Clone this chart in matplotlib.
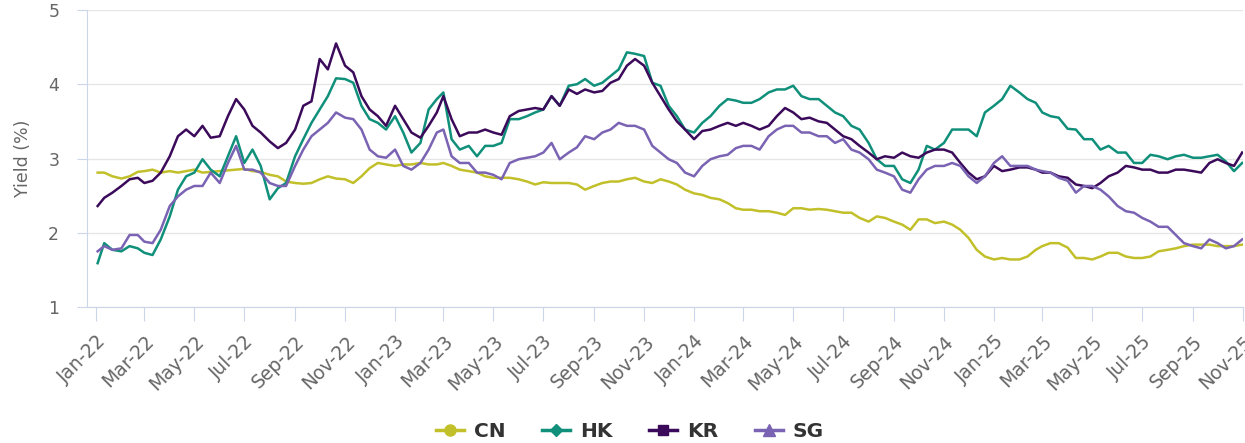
import matplotlib.pyplot as plt
import matplotlib.dates as mdates
import pandas as pd

# sample dates: 1st, 11th, 21st of each month, Jan-22 .. Oct-25
months = pd.date_range('2022-01-01', '2025-10-01', freq='MS')
dates = [m + pd.Timedelta(days=d) for m in months for d in (0, 10, 20)]
dates[0] = pd.Timestamp('2022-01-03')
dates.append(pd.Timestamp('2025-10-31'))

cn = [2.81, 2.81, 2.76, 2.73, 2.76, 2.82, 2.83, 2.85, 2.81, 2.83, 2.81, 2.83,
      2.85, 2.81, 2.82, 2.83, 2.84, 2.85, 2.86, 2.83, 2.82, 2.78, 2.76, 2.69,
      2.67, 2.66, 2.67, 2.72, 2.76, 2.73, 2.72, 2.67, 2.76, 2.87, 2.94, 2.92,
      2.90, 2.92, 2.92, 2.94, 2.92, 2.92, 2.94, 2.90, 2.85, 2.83, 2.81, 2.76,
      2.74, 2.74, 2.74, 2.72, 2.69, 2.65, 2.68, 2.67, 2.67, 2.67, 2.65, 2.58,
      2.63, 2.67, 2.69, 2.69, 2.72, 2.74, 2.69, 2.67, 2.72, 2.69, 2.65, 2.58,
      2.53, 2.51, 2.47, 2.45, 2.40, 2.33, 2.31, 2.31, 2.29, 2.29, 2.27, 2.24,
      2.33, 2.33, 2.31, 2.32, 2.31, 2.29, 2.27, 2.27, 2.20, 2.15, 2.22, 2.20,
      2.15, 2.11, 2.04, 2.18, 2.18, 2.13, 2.15, 2.11, 2.04, 1.93, 1.77, 1.68,
      1.64, 1.66, 1.64, 1.64, 1.68, 1.77, 1.82, 1.86, 1.86, 1.80, 1.66, 1.66,
      1.64, 1.68, 1.73, 1.73, 1.68, 1.66, 1.66, 1.68, 1.75, 1.77, 1.79, 1.82,
      1.84, 1.84, 1.84, 1.82, 1.82, 1.82, 1.84]

hk = [1.59, 1.86, 1.77, 1.75, 1.82, 1.79, 1.73, 1.70, 1.91, 2.22, 2.58, 2.76,
      2.81, 2.99, 2.85, 2.76, 3.03, 3.30, 2.94, 3.12, 2.90, 2.45, 2.60, 2.67,
      3.03, 3.26, 3.48, 3.66, 3.84, 4.08, 4.07, 4.02, 3.71, 3.53, 3.48, 3.39,
      3.57, 3.35, 3.08, 3.21, 3.66, 3.80, 3.89, 3.26, 3.12, 3.17, 3.03, 3.17,
      3.17, 3.21, 3.53, 3.53, 3.57, 3.62, 3.66, 3.84, 3.71, 3.98, 4.00, 4.07,
      3.98, 4.02, 4.11, 4.20, 4.43, 4.41, 4.38, 4.02, 3.98, 3.71, 3.57, 3.39,
      3.35, 3.48, 3.57, 3.71, 3.80, 3.78, 3.75, 3.75, 3.80, 3.89, 3.93, 3.93,
      3.98, 3.84, 3.80, 3.80, 3.71, 3.62, 3.57, 3.44, 3.39, 3.21, 2.99, 2.90,
      2.90, 2.72, 2.67, 2.85, 3.17, 3.12, 3.21, 3.39, 3.39, 3.39, 3.30, 3.62,
      3.71, 3.80, 3.98, 3.89, 3.80, 3.75, 3.62, 3.57, 3.55, 3.40, 3.39, 3.26,
      3.26, 3.12, 3.17, 3.08, 3.08, 2.94, 2.94, 3.05, 3.03, 2.99, 3.03, 3.05,
      3.01, 3.01, 3.03, 3.05, 2.96, 2.83, 2.94]

kr = [2.36, 2.47, 2.54, 2.63, 2.72, 2.74, 2.67, 2.70, 2.81, 3.03, 3.30, 3.39,
      3.30, 3.44, 3.28, 3.30, 3.57, 3.80, 3.66, 3.44, 3.35, 3.23, 3.14, 3.21,
      3.39, 3.71, 3.77, 4.34, 4.20, 4.55, 4.25, 4.16, 3.84, 3.66, 3.57, 3.44,
      3.71, 3.53, 3.35, 3.28, 3.44, 3.62, 3.84, 3.53, 3.30, 3.35, 3.35, 3.39,
      3.35, 3.32, 3.57, 3.64, 3.66, 3.68, 3.66, 3.84, 3.71, 3.93, 3.87, 3.93,
      3.89, 3.91, 4.02, 4.07, 4.25, 4.34, 4.25, 4.02, 3.84, 3.66, 3.50, 3.39,
      3.26, 3.37, 3.39, 3.44, 3.48, 3.44, 3.48, 3.44, 3.39, 3.44, 3.57, 3.68,
      3.62, 3.53, 3.55, 3.50, 3.48, 3.39, 3.30, 3.26, 3.17, 3.08, 2.99, 3.03,
      3.01, 3.08, 3.03, 3.01, 3.08, 3.12, 3.12, 3.08, 2.94, 2.81, 2.72, 2.76,
      2.90, 2.83, 2.85, 2.88, 2.88, 2.85, 2.81, 2.81, 2.76, 2.74, 2.65, 2.63,
      2.60, 2.67, 2.76, 2.81, 2.90, 2.88, 2.85, 2.85, 2.81, 2.81, 2.85, 2.85,
      2.83, 2.81, 2.94, 2.99, 2.94, 2.90, 3.08]

sg = [1.75, 1.82, 1.77, 1.79, 1.97, 1.97, 1.88, 1.86, 2.04, 2.36, 2.49, 2.58,
      2.63, 2.63, 2.81, 2.67, 2.94, 3.17, 2.85, 2.85, 2.81, 2.67, 2.63, 2.63,
      2.90, 3.12, 3.30, 3.39, 3.48, 3.62, 3.55, 3.53, 3.39, 3.12, 3.03, 3.01,
      3.12, 2.90, 2.85, 2.94, 3.12, 3.35, 3.39, 3.03, 2.94, 2.94, 2.81, 2.81,
      2.78, 2.72, 2.94, 2.99, 3.01, 3.03, 3.08, 3.21, 2.99, 3.08, 3.15, 3.30,
      3.26, 3.35, 3.39, 3.48, 3.44, 3.44, 3.39, 3.17, 3.08, 2.99, 2.94, 2.81,
      2.76, 2.90, 2.99, 3.03, 3.05, 3.14, 3.17, 3.17, 3.12, 3.30, 3.39, 3.44,
      3.44, 3.35, 3.35, 3.30, 3.30, 3.21, 3.26, 3.12, 3.08, 2.99, 2.85, 2.81,
      2.76, 2.58, 2.54, 2.72, 2.85, 2.90, 2.90, 2.94, 2.90, 2.76, 2.67, 2.76,
      2.94, 3.03, 2.90, 2.90, 2.90, 2.85, 2.83, 2.81, 2.74, 2.70, 2.54, 2.63,
      2.63, 2.58, 2.49, 2.36, 2.29, 2.27, 2.20, 2.15, 2.08, 2.08, 1.97, 1.86,
      1.82, 1.79, 1.91, 1.86, 1.79, 1.82, 1.91]

series = [('CN', cn, '#c2c02a', 'o', 8),
          ('HK', hk, '#10907a', 'D', 6),
          ('KR', kr, '#3b0a5a', 's', 7),
          ('SG', sg, '#7a63b3', '^', 8)]

fig = plt.figure(figsize=(12.45, 4.43), dpi=100)
ax = fig.add_axes([87 / 1245, 1 - 307 / 443, (1243 - 87) / 1245, 297 / 443])

handles = []
for name, vals, col, mk, ms in series:
    ax.plot(dates, vals, color=col, lw=1.8, label=name)
    h, = ax.plot([], [], color=col, lw=2.5, marker=mk, markersize=ms, label=name)
    handles.append(h)

ax.set_xlim(pd.Timestamp('2021-12-21'), pd.Timestamp('2025-11-01'))
ax.set_ylim(1, 5)
ax.set_yticks([1, 2, 3, 4, 5])
ax.yaxis.grid(True, color='#e6e6e6', lw=1)
ax.set_axisbelow(True)

ax.xaxis.set_major_locator(mdates.MonthLocator(bymonth=[1, 3, 5, 7, 9, 11]))
ax.xaxis.set_major_formatter(mdates.DateFormatter('%b-%y'))
for lab in ax.get_xticklabels():
    lab.set_rotation(45)
    lab.set_ha('right')
    lab.set_rotation_mode('anchor')

for s in ['top', 'right']:
    ax.spines[s].set_visible(False)
for s in ['left', 'bottom']:
    ax.spines[s].set_color('#ccd6eb')

ax.tick_params(axis='x', length=10, color='#ccd6eb', labelcolor='#666666',
               labelsize=13.5, pad=8)
ax.tick_params(axis='y', length=7, color='#ccd6eb', labelcolor='#666666',
               labelsize=12.5, pad=13)

ax.set_ylabel('Yield (%)', color='#666666', fontsize=12.5)
ax.yaxis.set_label_coords(-0.048, 0.5)

fig.legend(handles=handles, loc='center', bbox_to_anchor=(0.506, 0.025),
           ncol=4, frameon=False, handlelength=1.4, handletextpad=0.5,
           columnspacing=1.8, prop={'weight': 'bold', 'size': 14.5},
           labelcolor='#333333')

fig.savefig('out.png', dpi=100)
